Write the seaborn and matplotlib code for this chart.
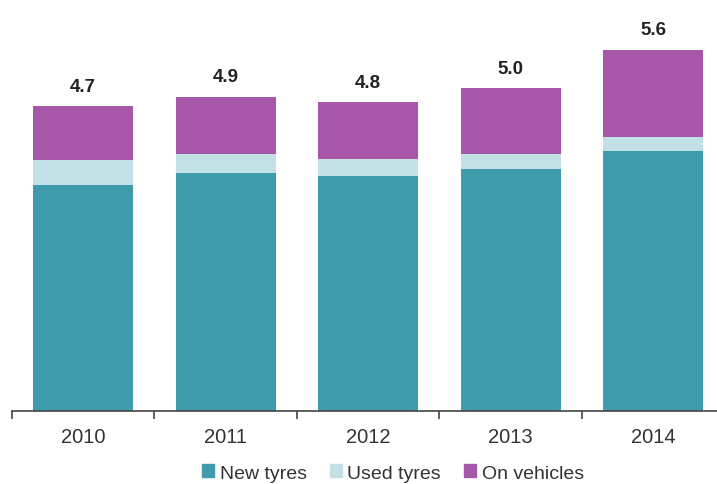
import matplotlib
matplotlib.use("Agg")
import matplotlib.pyplot as plt
import seaborn as sns
import pandas as pd
import numpy as np

years = ["2010", "2011", "2012", "2013", "2014"]
new_tyres = [3.49, 3.68, 3.64, 3.74, 4.02]
used_tyres = [0.39, 0.29, 0.26, 0.24, 0.21]
on_vehicles = [0.83, 0.89, 0.88, 1.01, 1.36]
series_names = ["New tyres", "Used tyres", "On vehicles"]
colors = ["#3F9AAB", "#C2E0E5", "#A757A8"]

sns.set_theme(style="white")
plt.rcParams['font.family'] = ['Liberation Sans', 'DejaVu Sans']

df = pd.DataFrame({"year": years, "new": new_tyres, "used": used_tyres, "veh": on_vehicles})
df["lvl1"] = df["new"]
df["lvl2"] = df["new"] + df["used"]
df["total"] = df["lvl2"] + df["veh"]

fig = plt.figure(figsize=(7.17, 4.85), dpi=100)
ax = fig.add_axes([12/717, (485-411.7)/485, 712.5/717, 411.7/485])

for col, c in zip(["total", "lvl2", "lvl1"], colors[::-1]):
    sns.barplot(data=df, x="year", y=col, color=c, width=0.70, ax=ax,
                saturation=1, edgecolor="none", linewidth=0)

for i, t in enumerate(df["total"]):
    ax.annotate(f"{t:.1f}", (i, t), xytext=(0, 11), textcoords="offset points",
                ha="center", va="baseline", fontsize=13.5, fontweight="bold", color="#222222")

ax.set_xlim(-0.5, 4.5)
ax.set_ylim(0, 411.7/64.6)
ax.set_xlabel("")
ax.set_ylabel("")
ax.set_yticks([])
for s in ["top", "right", "left"]:
    ax.spines[s].set_visible(False)
ax.spines["bottom"].set_color("#444444")
ax.spines["bottom"].set_linewidth(1.2)
ax.set_xticks(range(len(years)))
ax.set_xticklabels(years, fontsize=14.5, color="#333333")
ax.set_xticks(np.arange(-0.5, 5.0, 1.0), minor=True)
ax.tick_params(axis="x", which="major", bottom=True, length=0, pad=11.5)
ax.tick_params(axis="x", which="minor", bottom=True, length=6, width=1.2,
               color="#444444", direction="out")

handles = [plt.Rectangle((0, 0), 1, 1, color=c) for c in colors]
fig.legend(handles, series_names, loc="center", bbox_to_anchor=(393/717, 1-474/485),
           ncol=3, frameon=False, fontsize=14, handlelength=0.6, handleheight=0.6,
           handletextpad=0.3, columnspacing=1.2, labelcolor="#333333")

fig.savefig("out.png", dpi=100)
